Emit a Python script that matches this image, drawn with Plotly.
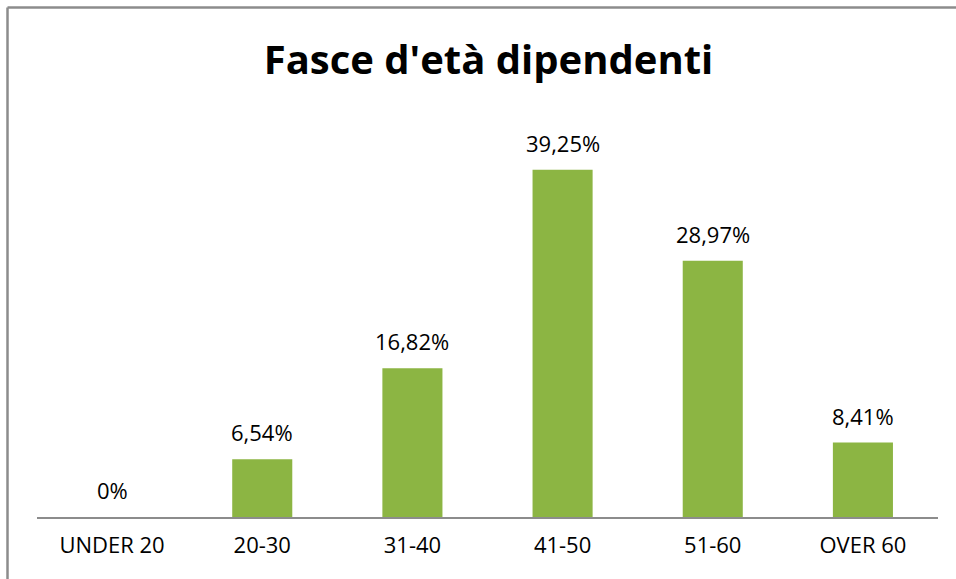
import plotly.graph_objects as go

categories = ["UNDER 20", "20-30", "31-40", "41-50", "51-60", "OVER 60"]
values = [0, 6.54, 16.82, 39.25, 28.97, 8.41]
labels = ["0%", "6,54%", "16,82%", "39,25%", "28,97%", "8,41%"]

FONT = "'Open Sans', 'Noto Sans', sans-serif"

fig = go.Figure()
fig.add_trace(go.Bar(
    x=categories, y=values, width=0.4,
    marker=dict(color="#8cb543", line=dict(width=0)),
    hoverinfo="skip",
))

for c, v, t in zip(categories, values, labels):
    fig.add_annotation(x=c, y=v, text=t, showarrow=False, yanchor="bottom",
                       yshift=10, font=dict(family=FONT, size=22, color="#000000"))

W, H = 956, 579
ml, mr, mt, mb = 37, 18, 119, 62
pw, ph = W - ml - mr, H - mt - mb
lx = (7.5 - ml) / pw
ty = (H - mb - 7.5) / ph
rx = (W - ml) / pw
by = -mb / ph
frame = dict(color="#8c8c8c", width=2.5)
fig.add_shape(type="line", xref="paper", yref="paper",
              x0=lx, x1=lx, y0=by, y1=ty, line=frame)
fig.add_shape(type="line", xref="paper", yref="paper",
              x0=lx, x1=rx, y0=ty, y1=ty, line=frame)

fig.update_layout(
    width=W, height=H,
    margin=dict(l=ml, r=mr, t=mt, b=mb),
    paper_bgcolor="white", plot_bgcolor="white",
    showlegend=False,
    title=dict(text="<b>Fasce d'età dipendenti</b>", x=488.5 / W, xanchor="center",
               y=(H - 60) / H, yanchor="middle",
               font=dict(family=FONT, size=40, color="#000000")),
    xaxis=dict(showgrid=False, showline=True, linecolor="#8c8c8c", linewidth=2,
               ticks="", ticklabelstandoff=8, range=[-0.5, 5.5],
               tickfont=dict(family=FONT, size=22, color="#000000"), fixedrange=True),
    yaxis=dict(range=[0, 45], visible=False, fixedrange=True),
)

fig.write_html(
    "out.html",
    config={"displayModeBar": False},
    post_script="document.body.style.margin='0';document.body.style.overflow='hidden';",
)
